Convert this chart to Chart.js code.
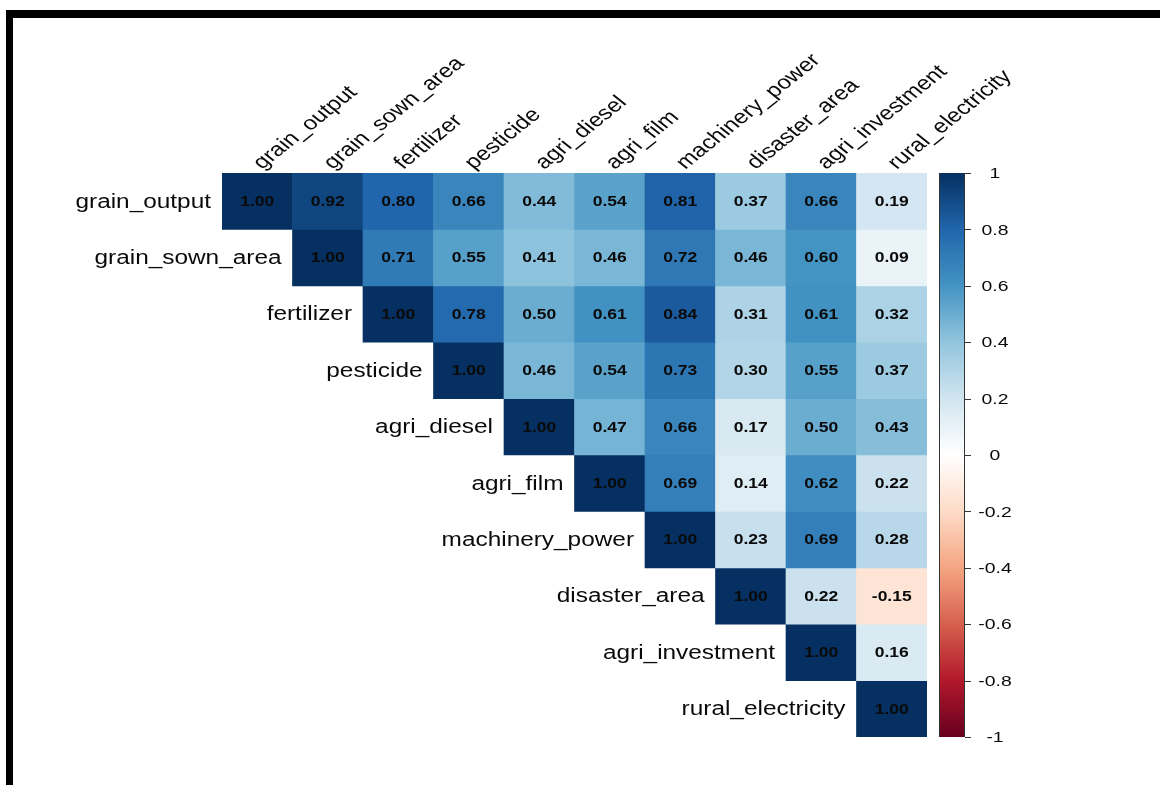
<!DOCTYPE html>
<html>
<head>
<meta charset="utf-8">
<script src="https://cdn.jsdelivr.net/npm/chart.js@4/dist/chart.umd.min.js"></script>
<style>
  html, body { margin: 0; padding: 0; background: #fff; }
  #wrap { position: relative; width: 1160px; height: 785px; overflow: hidden; background: #fff; }
  #c { position: absolute; left: 0; top: 0; }
  #frame { position: absolute; left: 6px; top: 10px; right: -20px; bottom: -20px;
           border-top: 8px solid #000; border-left: 7px solid #000; pointer-events: none; }
</style>
</head>
<body>
<div id="wrap">
  <canvas id="c" width="1160" height="785"></canvas>
  <div id="frame"></div>
</div>
<script>
// Variables, in matrix order
const variables = ['grain_output', 'grain_sown_area', 'fertilizer', 'pesticide', 'agri_diesel',
                   'agri_film', 'machinery_power', 'disaster_area', 'agri_investment', 'rural_electricity'];

// Upper-triangle correlations: each row starts at its diagonal
const grainOutput      = [1.00, 0.92, 0.80, 0.66, 0.44, 0.54, 0.81, 0.37, 0.66, 0.19];
const grainSownArea    = [1.00, 0.71, 0.55, 0.41, 0.46, 0.72, 0.46, 0.60, 0.09];
const fertilizer       = [1.00, 0.78, 0.50, 0.61, 0.84, 0.31, 0.61, 0.32];
const pesticide        = [1.00, 0.46, 0.54, 0.73, 0.30, 0.55, 0.37];
const agriDiesel       = [1.00, 0.47, 0.66, 0.17, 0.50, 0.43];
const agriFilm         = [1.00, 0.69, 0.14, 0.62, 0.22];
const machineryPower   = [1.00, 0.23, 0.69, 0.28];
const disasterArea     = [1.00, 0.22, -0.15];
const agriInvestment   = [1.00, 0.16];
const ruralElectricity = [1.00];

const corrRows = [grainOutput, grainSownArea, fertilizer, pesticide, agriDiesel,
                  agriFilm, machineryPower, disasterArea, agriInvestment, ruralElectricity];

// Colour legend ticks
const legendTicks = [1, 0.8, 0.6, 0.4, 0.2, 0, -0.2, -0.4, -0.6, -0.8, -1];
const legendTickLabels = ['1', '0.8', '0.6', '0.4', '0.2', '0', '-0.2', '-0.4', '-0.6', '-0.8', '-1'];

// Diverging red-blue palette from -1 to 1
const paletteStops = ['#67001F', '#B2182B', '#D6604D', '#F4A582', '#FDDBC7', '#FFFFFF',
                      '#D1E5F0', '#92C5DE', '#4393C3', '#2166AC', '#053061'];

function hexToRgb(h) {
  const n = parseInt(h.slice(1), 16);
  return [(n >> 16) & 255, (n >> 8) & 255, n & 255];
}
function colorFor(v) {
  const t = Math.max(0, Math.min(1, (v + 1) / 2)) * (paletteStops.length - 1);
  const i = Math.min(paletteStops.length - 2, Math.floor(t));
  const f = t - i;
  const a = hexToRgb(paletteStops[i]), b = hexToRgb(paletteStops[i + 1]);
  const c = a.map((x, k) => Math.round(x + (b[k] - x) * f));
  return `rgb(${c[0]},${c[1]},${c[2]})`;
}

const FONT = '"Liberation Sans", Arial, Helvetica, sans-serif';
const STRETCH = 1.25; // plot device is wider than tall: text is drawn stretched horizontally

function stretchedText(ctx, text, x, y, opts) {
  ctx.save();
  ctx.translate(x, y);
  ctx.scale(STRETCH, 1);
  if (opts.rotate) ctx.rotate(opts.rotate);
  ctx.font = opts.font;
  ctx.fillStyle = opts.color || '#000';
  ctx.textAlign = opts.align || 'left';
  ctx.textBaseline = opts.baseline || 'alphabetic';
  ctx.fillText(text, 0, 0);
  ctx.restore();
}

// One dataset per matrix row; each cell is a floating bar spanning its row band
const datasets = corrRows.map((row, i) => ({
  label: variables[i],
  values: variables.map((_, j) => (j >= i ? row[j - i] : null)),
  data: variables.map((_, j) => (j >= i ? [i, i + 1] : null)),
  backgroundColor: (ctx) => {
    const v = ctx.dataset.values[ctx.dataIndex];
    return v == null ? 'rgba(0,0,0,0)' : colorFor(v);
  },
  borderWidth: 0,
  grouped: false,
  barPercentage: 1,
  categoryPercentage: 1
}));

const corrDecorations = {
  id: 'corrDecorations',
  afterDatasetsDraw(chart) {
    const ctx = chart.ctx;
    const area = chart.chartArea;
    const xs = chart.scales.x;

    // cell values
    chart.data.datasets.forEach((ds, i) => {
      const meta = chart.getDatasetMeta(i);
      meta.data.forEach((el, j) => {
        const v = ds.values[j];
        if (v == null) return;
        const cy = (el.y + el.base) / 2;
        stretchedText(ctx, v.toFixed(2), el.x, cy + 1, {
          font: 'bold 14px ' + FONT, color: '#0a0a0a', align: 'center', baseline: 'middle'
        });
      });
      // row label just left of the diagonal cell
      const diag = meta.data[i];
      const cy = (diag.y + diag.base) / 2;
      stretchedText(ctx, variables[i], diag.x - diag.width / 2 - 11, cy + 1, {
        font: '19.5px ' + FONT, color: '#0a0a0a', align: 'right', baseline: 'middle'
      });
    });

    // column labels, rotated above the matrix
    variables.forEach((name, j) => {
      const x = xs.getPixelForValue(j);
      stretchedText(ctx, name, x + 5, area.top - 3, {
        font: '19.5px ' + FONT, color: '#0a0a0a', rotate: -Math.PI / 4
      });
    });

    // colour legend bar
    const ys = chart.scales.yc;
    const barL = area.right + 12, barR = area.right + 38;
    const top = ys.getPixelForValue(1), bot = ys.getPixelForValue(-1);
    const grad = ctx.createLinearGradient(0, bot, 0, top);
    paletteStops.forEach((c, k) => grad.addColorStop(k / (paletteStops.length - 1), c));
    ctx.save();
    ctx.fillStyle = grad;
    ctx.fillRect(barL, top, barR - barL, bot - top);
    ctx.strokeStyle = '#333';
    ctx.lineWidth = 1;
    ctx.beginPath();
    ctx.moveTo(barL + 0.5, top); ctx.lineTo(barL + 0.5, bot);
    ctx.moveTo(barR - 0.5, top); ctx.lineTo(barR - 0.5, bot);
    legendTicks.forEach((t) => {
      const y = Math.round(ys.getPixelForValue(t)) + 0.5;
      ctx.moveTo(barR, y); ctx.lineTo(barR + 6, y);
    });
    ctx.stroke();
    ctx.restore();
    legendTicks.forEach((t, k) => {
      stretchedText(ctx, legendTickLabels[k], area.right + 68, ys.getPixelForValue(t) + 1, {
        font: '15.5px ' + FONT, color: '#0a0a0a', align: 'center', baseline: 'middle'
      });
    });
  }
};

new Chart(document.getElementById('c'), {
  type: 'bar',
  data: { labels: variables, datasets },
  options: {
    responsive: false,
    animation: false,
    events: [],
    layout: { padding: { left: 222, right: 233, top: 173, bottom: 48 } },
    plugins: { legend: { display: false }, tooltip: { enabled: false } },
    scales: {
      x: { type: 'category', display: false },
      y: { type: 'linear', min: 0, max: 10, reverse: true, display: false },
      yc: { type: 'linear', min: -1, max: 1, display: false, position: 'right' }
    }
  },
  plugins: [corrDecorations]
});
</script>
</body>
</html>
